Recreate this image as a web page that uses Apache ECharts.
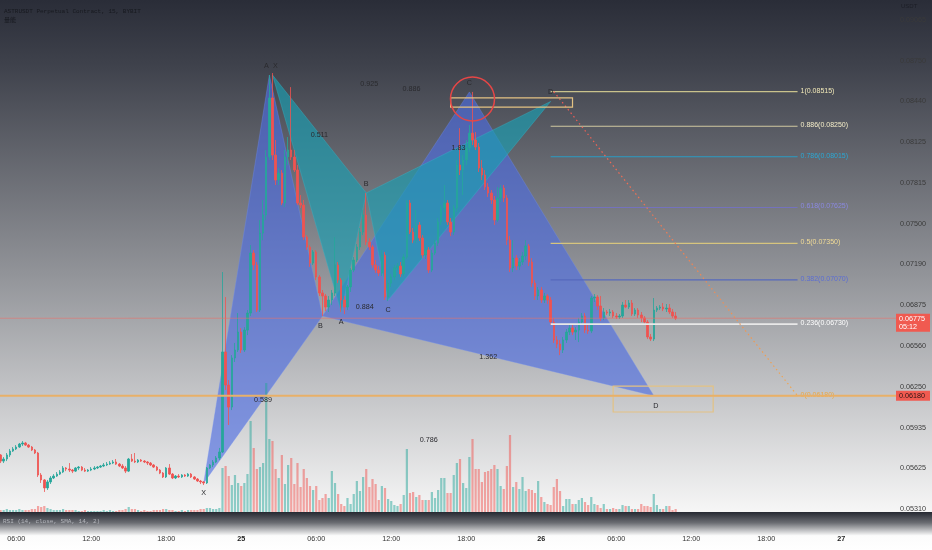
<!DOCTYPE html>
<html><head><meta charset="utf-8">
<script src="https://cdn.jsdelivr.net/npm/echarts@6/dist/echarts.min.js"></script>
<style>html,body{margin:0;padding:0;background:#fff}#c{width:932px;height:550px}</style>
</head><body><div id="c"></div>
<script>
// ---- DATA (prices in 1e-5 USDT) : [open, close, low, high] ----
const candlesRaw = [
[5725,5678,5663,5732],[5678,5694,5663,5709],[5694,5725,5678,5740],[5725,5755,5709,5771],[5755,5771,5748,5786],
[5771,5786,5763,5801],[5786,5809,5779,5817],[5809,5817,5794,5832],[5817,5801,5794,5825],[5801,5786,5779,5809],
[5786,5763,5755,5794],[5763,5740,5732,5771],[5740,5571,5556,5748],[5571,5533,5510,5586],[5533,5472,5441,5540],
[5472,5518,5456,5533],[5518,5548,5502,5563],[5548,5563,5540,5578],[5563,5578,5556,5594],[5578,5594,5571,5609],
[5594,5625,5586,5640],[5625,5617,5601,5632],[5617,5609,5594,5663],[5609,5601,5586,5617],[5601,5625,5594,5632],
[5625,5632,5609,5640],[5632,5609,5601,5640],[5609,5601,5594,5625],[5601,5609,5594,5617],[5609,5617,5601,5632],
[5617,5625,5609,5640],[5625,5632,5617,5640],[5632,5640,5625,5648],[5640,5648,5632,5663],[5648,5655,5640,5671],
[5655,5663,5648,5678],[5663,5671,5655,5686],[5671,5655,5648,5694],[5655,5640,5632,5663],[5640,5625,5617,5655],
[5625,5601,5586,5640],[5601,5694,5594,5702],[5694,5678,5671,5732],[5678,5671,5663,5740],[5671,5686,5663,5694],
[5686,5678,5671,5694],[5678,5671,5663,5686],[5671,5663,5648,5678],[5663,5648,5640,5671],[5648,5632,5625,5655],
[5632,5609,5601,5640],[5609,5586,5578,5617],[5586,5556,5548,5594],[5556,5625,5548,5632],[5625,5578,5571,5655],
[5578,5548,5540,5586],[5548,5563,5540,5571],[5563,5556,5548,5578],[5556,5571,5548,5578],[5571,5563,5556,5578],
[5563,5578,5556,5586],[5578,5556,5548,5586],[5556,5540,5533,5563],[5540,5525,5518,5548],[5525,5518,5502,5533],
[5518,5510,5494,5525],[5510,5625,5502,5632],[5625,5648,5617,5655],[5648,5671,5632,5686],[5671,5702,5663,5717],
[5702,5748,5686,5779],[5748,6516,5740,7130],[6516,6262,6224,6938],[6262,6093,5955,6300],[6093,6470,6070,6492],
[6470,6531,6439,6585],[6531,6669,6516,6815],[6669,6531,6508,6699],[6531,6684,6516,6707],[6684,6815,6646,6838],
[6815,7276,6792,7337],[7276,7184,7145,7299],[7184,6838,6823,7207],[6838,7429,6823,7529],[7429,7568,7375,7683],
[7568,8013,7529,8067],[8013,8467,7990,8643],[8467,8028,7990,8658],[8028,7836,7798,8144],[7836,7890,7798,7928],
[7890,7660,7644,7913],[7660,8013,7629,8067],[8013,8067,7952,8167],[8067,8013,7990,8550],[8013,7913,7898,8067],
[7913,7660,7644,7952],[7660,7644,7621,7721],[7644,7398,7375,7683],[7398,7322,7299,7414],[7322,7199,7169,7337],
[7199,7284,7184,7299],[7284,7092,7068,7299],[7092,6969,6946,7107],[6969,6946,6792,6992],[6946,6861,6830,6961],
[6861,6915,6823,6946],[6915,6969,6876,6992],[6969,7184,6946,7398],[7184,7068,7045,7207],[7068,6915,6823,7084],
[6915,6861,6807,6946],[6861,7015,6838,7030],[7015,7145,6977,7161],[7145,7222,7130,7245],[7222,7322,7207,7345],
[7322,7437,7299,7468],[7437,7568,7414,7606],[7568,7360,7337,7737],[7360,7322,7299,7391],[7322,7184,7161,7337],
[7184,7145,7122,7222],[7145,7122,7099,7176],[7122,7260,7099,7299],[7260,6938,6915,7284],[6938,7045,6907,7068],
[7045,7092,7015,7115],[7092,7161,7068,7184],[7161,7176,7145,7199],[7176,7115,7092,7207],[7115,7245,7099,7268],
[7245,7660,7230,7683],[7660,7437,7421,7683],[7437,7375,7352,7468],[7375,7491,7352,7606],[7491,7391,7368,7514],
[7391,7260,7237,7414],[7260,7299,7230,7322],[7299,7145,7122,7322],[7145,7276,7130,7299],[7276,7352,7260,7375],
[7352,7514,7330,7545],[7514,7621,7491,7644],[7621,7660,7591,7798],[7660,7514,7491,7683],[7514,7437,7406,7545],
[7437,7621,7414,7644],[7621,7952,7591,7990],[7952,7913,7875,8235],[7913,7990,7721,8028],[7990,8082,7952,8144],
[8082,8197,8052,8259],[8197,8144,8105,8513],[8144,8090,8067,8205],[8090,7928,7898,8121],[7928,7875,7836,7990],
[7875,7783,7760,7913],[7783,7737,7706,7813],[7737,7683,7652,7760],[7683,7529,7491,7714],[7529,7698,7514,7783],
[7698,7775,7667,7798],[7775,7698,7667,7798],[7698,7375,7337,7721],[7375,7161,7130,7406],[7161,7237,7130,7375],
[7237,7176,7145,7260],[7176,7207,7145,7237],[7207,7253,7184,7284],[7253,7330,7222,7375],[7330,7207,7176,7345],
[7207,7045,7015,7237],[7045,6946,6915,7068],[6946,6992,6915,7015],[6992,6915,6892,7015],[6915,6946,6892,6969],
[6946,6915,6884,6961],[6915,6746,6723,6938],[6746,6608,6585,6777],[6608,6577,6546,6638],[6577,6531,6492,6608],
[6531,6608,6508,6631],[6608,6669,6585,6692],[6669,6700,6646,6723],[6700,6669,6646,6723],[6669,6684,6608,6707],
[6684,6746,6592,6777],[6746,6792,6723,6815],[6792,6684,6661,6815],[6684,6677,6654,6723],[6677,6930,6661,6946],
[6930,6938,6900,6961],[6938,6869,6838,6953],[6869,6777,6754,6946],[6777,6823,6761,6853],[6823,6815,6800,6838],
[6815,6823,6792,6846],[6823,6792,6777,6838],[6792,6784,6769,6815],[6784,6792,6769,6807],[6792,6876,6777,6900],
[6876,6861,6853,6915],[6861,6892,6846,6915],[6892,6807,6792,6915],[6807,6838,6792,6853],[6838,6800,6777,6853],
[6800,6777,6746,6823],[6777,6746,6723,6792],[6746,6631,6615,6761],[6631,6615,6600,6654],[6615,6838,6600,6930],
[6838,6853,6823,6869],[6853,6861,6838,6876],[6861,6846,6830,6892],[6846,6853,6823,6884],[6853,6823,6807,6884],
[6823,6792,6777,6846],[6792,6775,6761,6823]
];
// volume (x10k ASTR)
const volumes = [
2,2,3,2,2,2,3,2,2,2, 3,3,6,5,6,4,3,2,2,2, 3,2,2,2,2,1,1,2,1,1, 1,1,1,2,1,2,1,1,2,2,
3,5,3,3,2,1,2,1,1,2, 2,2,3,3,2,2,1,1,2,1, 2,2,2,2,3,3,4,4,3,3, 4,
44,46,36,27,37,29,26,29,38,91, 64,43,45,49,129,73,71,43,34,57, 28,47,54,28,49,25,43,34,26,22,
26,12,14,18,14,41,29,18,8,6, 14,8,18,31,21,35,43,25,33,28, 12,26,24,13,11,7,6,8,17,63,
19,20,15,17,12,12,12,20,14,22, 34,34,19,19,37,49,53,29,24,55, 73,43,43,30,40,41,43,47,43,26,
23,46,77,25,30,23,35,21,23,22, 19,31,15,10,8,7,25,33,21,6, 13,13,8,8,12,14,10,7,15,8,
7,4,8,3,3,4,3,3,7,6, 6,3,3,3,8,6,6,5,18,7, 3,3,6,6,2,3
];
const yTicks = [0.05310,0.05625,0.05935,0.06250,0.06560,0.06875,0.07190,0.07500,0.07815,0.08125,0.08440,0.08750,0.09065];
const xTickIdx = [5,29,53,77,101,125,149,173,197,221,245,269];
const xTickText = ['06:00','12:00','18:00','25','06:00','12:00','18:00','26','06:00','12:00','18:00','27'];
const slotCount = 287;
// harmonic patterns: points X, A, B, C, D
const p1Idx = [65,86,103,150,209];
const p1Price = [0.05510,0.08643,0.06792,0.08513,0.06180];
const p2Idx = [87,109,117,124,176];
const p2Price = [0.08643,0.06823,0.07737,0.06915,0.08440];
const p1Ratios = ['0.589','0.925','1.362','0.786']; // XB, AC, BD, XD
const p2Ratios = ['0.511','0.884','1.83','0.886'];
const pointNames = ['X','A','B','C','D'];
// fib retracement
const fibLevels = ['1','0.886','0.786','0.618','0.5','0.382','0.236','0'];
const fibPrices = [0.08515,0.08250,0.08015,0.07625,0.07350,0.07070,0.06730,0.06180];
const fibStartIdx = 176, fibEndIdx = 255;
const boxIdx = [[144,183],[196,228]];
const boxPrice = [[0.08467,0.08397],[0.06254,0.06055]];
const circleCenter = [151,0.08459];
const lastPrice = 0.06775, lastCountdown = '05:12', levelPrice = 0.06180;

// ---- STYLES ----
const FONT = '"Liberation Sans", Arial, sans-serif';
const fibLineColors = ['#c9c28c','#cfc9a0','#2a9cc4','#7472bc','#d6c47e','#5668bc','#e8e8e8','#e8b060'];
const fibTextColors = ['#f2e9b8','#f4edc8','#2aa8d4','#8a88e0','#f2dc96','#5a6cd4','#ffffff','#e8a848'];

const categories = [];
for (let i = 0; i < slotCount; i++) categories.push(String(i));
const candleData = candlesRaw.map(q => q.map(v => v / 1e5));
const volData = volumes.map((v, i) => {
  const up = candlesRaw[i][1] >= candlesRaw[i][0];
  return {value: v, itemStyle: {color: up ? 'rgba(38,166,154,0.5)' : 'rgba(239,83,80,0.5)'}};
});

const chart = echarts.init(document.getElementById('c'), null, {renderer: 'canvas'});

function patternPts(api, k) {
  const idx = k ? p2Idx : p1Idx, pr = k ? p2Price : p1Price;
  return idx.map((v, j) => api.coord([v, pr[j]]));
}
function mid(a, b) { return [(a[0] + b[0]) / 2, (a[1] + b[1]) / 2]; }
function txt(t, x, y, fill, size, align, weight) {
  return {type: 'text', style: {text: t, x: x, y: y, fill: fill, fontSize: size || 7.2, fontFamily: FONT,
    fontWeight: weight || 'normal', align: align || 'center', verticalAlign: 'middle'}};
}

const option = {
  animation: false,
  backgroundColor: {type: 'linear', x: 0, y: 0, x2: 0, y2: 1, colorStops: [
    {offset: 0, color: '#2a2d38'}, {offset: 0.12, color: '#3f424c'}, {offset: 0.5, color: '#929499'}, {offset: 0.93, color: '#f6f6f6'}, {offset: 1, color: '#ffffff'}]},
  grid: {left: -1, top: 0, width: 897, height: 512, outerBoundsMode: 'none', containLabel: false},
  xAxis: {
    type: 'category', data: categories, boundaryGap: true,
    axisLine: {show: false}, axisTick: {show: false}, splitLine: {show: false},
    axisLabel: {
      interval: (i) => xTickIdx.indexOf(i) >= 0,
      formatter: (v, i) => {
        const k = xTickIdx.indexOf(Number(v));
        const t = k >= 0 ? xTickText[k] : '';
        return t.length <= 2 ? '{b|' + t + '}' : t;
      },
      margin: 24, fontSize: 7.2, color: '#333', fontFamily: FONT,
      rich: {b: {fontWeight: 'bold', fontSize: 7.2, color: '#222', fontFamily: FONT}}
    }
  },
  yAxis: [
    {type: 'value', position: 'right', min: 0.05287, max: 0.09219, scale: true,
     axisLine: {show: false}, axisTick: {show: false}, splitLine: {show: false},
     axisLabel: {customValues: yTicks, formatter: v => v.toFixed(5), margin: 4, fontSize: 7.2,
       color: '#3a3a3a', fontFamily: FONT, showMinLabel: true, showMaxLabel: true}},
    {type: 'value', min: 0, max: 512, show: false}
  ],
  graphic: {elements: [
    {type: 'rect', silent: true, z: -1, shape: {x: 0, y: 512, width: 932, height: 24},
     style: {fill: new echarts.graphic.LinearGradient(0, 0, 0, 1, [
       {offset: 0, color: '#262932'}, {offset: 0.45, color: '#6a6c72'}, {offset: 1, color: '#ffffff'}])}},
    {type: 'text', silent: true, left: 3, top: 518, style: {text: 'RSI (14, close, SMA, 14, 2)', fill: '#b4b6bc', font: '6px "Liberation Mono", monospace'}},
    {type: 'text', silent: true, left: 4, top: 8, style: {text: 'ASTRUSDT Perpetual Contract, 15, BYBIT', fill: '#17191f', font: '6px "Liberation Mono", monospace'}},
    {type: 'text', silent: true, left: 4, top: 17, style: {text: '量能', fill: '#17191f', font: '6px "Noto Sans CJK SC"'}},
    {type: 'text', silent: true, left: 901, top: 3, style: {text: 'USDT', fill: '#1c1e26', font: '6px "Liberation Sans"'}}
  ]},
  series: [
    { // pattern fills
      type: 'custom', z: 1, silent: true, data: [[0, 0.07], [1, 0.07]],
      renderItem: (params, api) => {
        const k = params.dataIndex;
        const p = patternPts(api, k);
        const fill = k ? 'rgba(26,158,178,0.66)' : 'rgba(76,108,226,0.64)';
        const edge = k ? 'rgba(50,180,200,0.7)' : 'rgba(110,140,240,0.6)';
        return {type: 'group', children: [
          {type: 'polygon', shape: {points: [p[0], p[1], p[2]]}, style: {fill: fill, stroke: edge, lineWidth: 0.6}},
          {type: 'polygon', shape: {points: [p[2], p[3], p[4]]}, style: {fill: fill, stroke: edge, lineWidth: 0.6}}
        ]};
      }
    },
    {type: 'bar', name: 'Volume', xAxisIndex: 0, yAxisIndex: 1, z: 2, barWidth: 2.2, data: volData, silent: true},
    {type: 'candlestick', name: 'ASTRUSDT', z: 3, barWidth: 2, data: candleData,
     itemStyle: {color: '#26a69a', color0: '#ef5350', borderColor: '#26a69a', borderColor0: '#ef5350', borderWidth: 0.8}},
    { // fib levels
      type: 'custom', z: 4, silent: true, data: fibPrices.map(p => [fibStartIdx, p]),
      renderItem: (params, api) => {
        const i = params.dataIndex, p = fibPrices[i];
        const s = api.coord([fibStartIdx, p]), e = api.coord([fibEndIdx, p]);
        return {type: 'group', children: [
          {type: 'line', shape: {x1: s[0], y1: s[1], x2: e[0], y2: e[1]}, style: {stroke: fibLineColors[i], lineWidth: i === 6 ? 1.6 : 1.1}},
          txt(fibLevels[i] + '(' + p.toFixed(5) + ')', e[0] + 3, e[1] - 1, fibTextColors[i], 7, 'left')
        ]};
      }
    },
    { // fib trend dotted
      type: 'custom', z: 4, silent: true, data: [[fibStartIdx, fibPrices[0]]],
      renderItem: (params, api) => {
        const s = api.coord([fibStartIdx + 1, fibPrices[0]]), e = api.coord([fibEndIdx, fibPrices[7]]);
        return {type: 'line', shape: {x1: s[0], y1: s[1], x2: e[0], y2: e[1]},
          style: {stroke: new echarts.graphic.LinearGradient(0, 0, 0, 1, [{offset: 0, color: '#f25454'}, {offset: 1, color: '#f0a850'}]),
            lineWidth: 1.2, lineDash: [1.5, 3]}};
      }
    },
    { // boxes and circle
      type: 'custom', z: 4, silent: true, data: [[0, 0.07], [1, 0.07], [2, 0.07]],
      renderItem: (params, api) => {
        const k = params.dataIndex;
        if (k < 2) {
          const a = api.coord([boxIdx[k][0], boxPrice[k][0]]), b = api.coord([boxIdx[k][1], boxPrice[k][1]]);
          return {type: 'rect', shape: {x: a[0], y: a[1], width: b[0] - a[0], height: b[1] - a[1]},
            style: {fill: 'rgba(0,0,0,0)', stroke: '#e3c283', lineWidth: 1.2}};
        }
        const c = api.coord(circleCenter);
        return {type: 'circle', shape: {cx: c[0], cy: c[1], r: 22}, style: {fill: 'rgba(0,0,0,0)', stroke: '#e64646', lineWidth: 1.5}};
      }
    },
    { // pattern labels
      type: 'custom', z: 5, silent: true, data: [[0, 0.07], [1, 0.07]],
      renderItem: (params, api) => {
        const k = params.dataIndex;
        const p = patternPts(api, k);
        const ratios = k ? p2Ratios : p1Ratios;
        const above = k ? [true, false, true, false, true] : [false, true, false, true, false];
        const dx = k ? [3, 0, 0, 0, 0] : [0, -3, -2, 0, 2];
        const ch = [];
        p.forEach((pt, j) => ch.push(txt(pointNames[j], pt[0] + dx[j], pt[1] + (above[j] ? -9 : 10), '#2a2a2e', 7.2)));
        const segs = [[0, 2], [1, 3], [2, 4], [0, 4]];
        segs.forEach((s, j) => { const m = mid(p[s[0]], p[s[1]]); ch.push(txt(ratios[j], m[0], m[1] + 1, '#2a2a2e', 7.2)); });
        return {type: 'group', children: ch};
      }
    },
    { // price lines and axis tags
      type: 'custom', z: 6, silent: true, data: [[0, lastPrice], [1, levelPrice]],
      renderItem: (params, api) => {
        const k = params.dataIndex, cs = params.coordSys;
        const price = k ? levelPrice : lastPrice;
        const y = api.coord([0, price])[1];
        const xr = cs.x + cs.width;
        if (k === 0) {
          return {type: 'group', children: [
            {type: 'line', shape: {x1: 0, y1: y, x2: xr, y2: y}, style: {stroke: 'rgba(236,112,102,0.55)', lineWidth: 1}},
            {type: 'rect', shape: {x: xr, y: y - 4.5, width: 34, height: 18}, style: {fill: '#f05a50'}},
            txt(price.toFixed(5), xr + 3, y + 0.5, '#ffffff', 7.2, 'left'),
            txt(lastCountdown, xr + 3, y + 8.5, '#ffffff', 7.2, 'left')
          ]};
        }
        return {type: 'group', children: [
          {type: 'line', shape: {x1: 0, y1: y, x2: xr, y2: y}, style: {stroke: '#e8b068', lineWidth: 2}},
          {type: 'rect', shape: {x: xr, y: y - 5, width: 34, height: 10}, style: {fill: '#f05a50'}},
          txt(price.toFixed(5), xr + 3, y, '#2a1414', 7.2, 'left')
        ]};
      }
    }
  ]
};
chart.setOption(option);
</script>
</body></html>
